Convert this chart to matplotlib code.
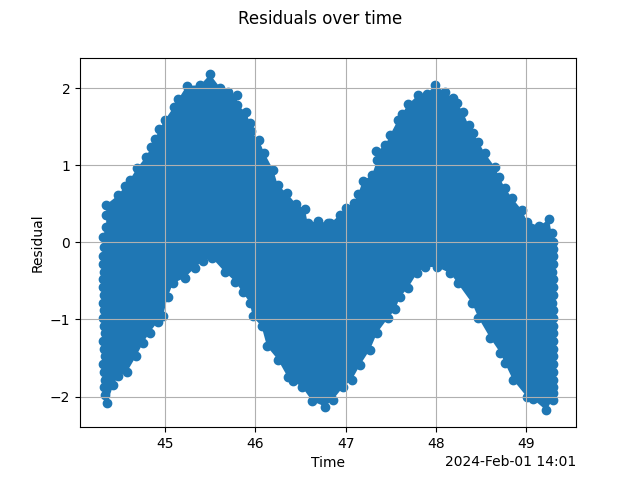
from datetime import datetime, timedelta

import matplotlib
matplotlib.use("Agg")
import matplotlib.dates as mdates
import matplotlib.pyplot as plt
import numpy as np

upper_sec = [44.31, 44.35, 44.35, 44.35, 44.48, 44.56, 44.61, 44.69, 44.79, 44.85, 44.89, 44.94,
             45.00, 45.10, 45.15, 45.24, 45.39, 45.50, 45.61, 45.70, 45.80, 45.80, 45.90, 45.94,
             45.95, 46.04, 46.10, 46.20, 46.25, 46.35, 46.45, 46.55, 46.58, 46.69, 46.80, 46.83,
             46.94, 47.00, 47.09, 47.14, 47.19, 47.29, 47.35, 47.34, 47.44, 47.49, 47.58, 47.62,
             47.69, 47.80, 47.90, 47.99, 48.10, 48.19, 48.23, 48.30, 48.36, 48.41, 48.47, 48.54,
             48.65, 48.70, 48.76, 48.84, 48.95, 49.01, 49.14, 49.25, 49.28, 49.30]
upper_res = [0.07, 0.20, 0.36, 0.49, 0.61, 0.73, 0.81, 0.96, 1.11, 1.24, 1.34, 1.47,
             1.59, 1.76, 1.86, 2.03, 2.04, 2.18, 2.01, 1.95, 1.91, 1.78, 1.69, 1.55,
             1.44, 1.33, 1.16, 0.94, 0.74, 0.64, 0.50, 0.43, 0.25, 0.28, 0.25, 0.25,
             0.36, 0.45, 0.51, 0.63, 0.80, 0.87, 1.07, 1.18, 1.26, 1.39, 1.59, 1.66,
             1.79, 1.91, 1.93, 2.04, 1.95, 1.87, 1.81, 1.69, 1.52, 1.42, 1.30, 1.16,
             0.98, 0.85, 0.71, 0.58, 0.42, 0.27, 0.21, 0.30, 0.12, 0.00]

right_sec = [49.30, 49.29, 49.30, 49.28, 49.29, 49.30, 49.29, 49.28, 49.30, 49.30, 49.29, 49.30,
             49.29, 49.30, 49.30, 49.29, 49.30, 49.30, 49.29, 49.30]
right_res = [-0.08, -0.18, -0.28, -0.38, -0.48, -0.58, -0.68, -0.78, -0.88, -0.98, -1.08, -1.18,
             -1.28, -1.38, -1.48, -1.58, -1.68, -1.78, -1.88, -1.96]

lower_sec = [49.29, 49.22, 49.07, 49.01, 48.85, 48.76, 48.71, 48.60, 48.47, 48.40, 48.24, 48.16,
             48.01, 47.88, 47.79, 47.69, 47.60, 47.55, 47.47, 47.35, 47.27, 47.16, 47.07, 46.97,
             46.86, 46.77, 46.63, 46.52, 46.42, 46.36, 46.25, 46.13, 46.07, 45.97, 45.94, 45.86,
             45.78, 45.66, 45.52, 45.42, 45.33, 45.22, 45.09, 45.03, 44.98, 44.92, 44.83, 44.76,
             44.68, 44.58, 44.48, 44.43, 44.36, 44.34]
lower_res = [-2.04, -2.18, -2.03, -2.01, -1.78, -1.56, -1.43, -1.24, -0.98, -0.79, -0.53, -0.40,
             -0.32, -0.32, -0.40, -0.59, -0.71, -0.87, -0.98, -1.17, -1.39, -1.59, -1.78, -1.88,
             -2.04, -2.13, -2.06, -1.88, -1.80, -1.75, -1.52, -1.35, -1.09, -0.96, -0.78, -0.65,
             -0.51, -0.38, -0.20, -0.24, -0.33, -0.46, -0.53, -0.71, -0.95, -1.03, -1.17, -1.30,
             -1.48, -1.68, -1.74, -1.85, -2.09, -1.98]

left_sec = [44.33, 44.34, 44.33, 44.32, 44.34, 44.33, 44.32, 44.34, 44.33, 44.31, 44.33, 44.32,
            44.33, 44.32, 44.31, 44.33, 44.32, 44.31, 44.33]
left_res = [-1.88, -1.78, -1.68, -1.58, -1.48, -1.38, -1.28, -1.18, -1.08, -0.98, -0.88, -0.78,
            -0.68, -0.58, -0.48, -0.38, -0.28, -0.18, -0.06]

start = datetime(2024, 2, 1, 14, 1, 0)


def to_times(seconds):
    return [start + timedelta(seconds=s) for s in seconds]


sec = upper_sec + right_sec + lower_sec + left_sec
res = upper_res + right_res + lower_res + left_res
times = to_times(sec)

fig, ax = plt.subplots()
fig.suptitle("Residuals over time")

ax.scatter(times, res)
# the cloud is solid inside, so its middle is filled from the outline points
ax.fill(mdates.date2num(times), np.array(res), color="C0", linewidth=0, zorder=1)

locator = mdates.AutoDateLocator()
ax.xaxis.set_major_locator(locator)
ax.xaxis.set_major_formatter(mdates.ConciseDateFormatter(locator))
ax.set_xlabel("Time")
ax.set_ylabel("Residual")
ax.grid()

fig.savefig("out.png", dpi=100)
